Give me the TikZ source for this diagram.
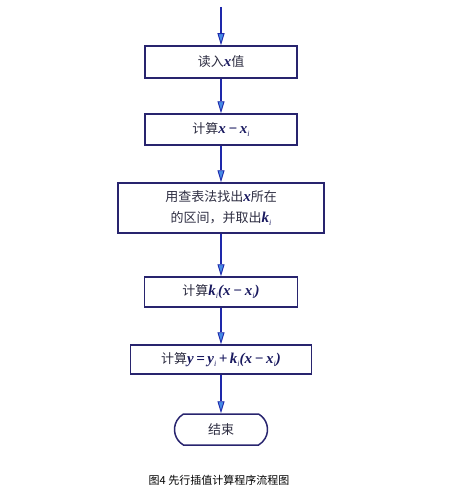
\documentclass[tikz,border=0pt]{standalone}
\usepackage{fontspec}
\newfontfamily\cjk{Noto Sans CJK SC}
\newfontfamily\mathfont{Liberation Serif}
\usetikzlibrary{arrows.meta, shapes.misc}
\definecolor{boxline}{RGB}{40,36,110}
\definecolor{flowline}{RGB}{30,40,170}
\definecolor{tipfill}{RGB}{70,140,230}
\definecolor{txtcol}{RGB}{45,45,65}
\definecolor{mathcol}{RGB}{25,25,95}
% bold italic formula text, and its subscript
\newcommand{\mth}[1]{{\mathfont\bfseries\itshape\fontsize{15}{15}\selectfont\color{mathcol}#1}}
\newcommand{\sub}[1]{\raisebox{-3pt}{\fontsize{8}{8}\selectfont\mdseries #1}}

\begin{document}
\begin{tikzpicture}[x=1pt,y=1pt,yscale=-1,
    box/.style={draw=boxline, line width=1.5pt, inner sep=0pt, align=center, text=txtcol,
        font=\cjk\fontsize{13}{21}\selectfont},
    term/.style={box, rounded rectangle, rounded rectangle arc length=120},
    flow/.style={draw=flowline, line width=1.8pt,
        -{Triangle[length=12pt, width=7pt, fill=tipfill, line width=0.9pt]}}]
    \useasboundingbox (0,0) rectangle (450,495);

    % boxes
    \coordinate (start) at (221,7);
    \node [box, minimum width=152pt, minimum height=32pt] (read) at (221,62) {读入\mth{x}值};
    \node [box, minimum width=152pt, minimum height=31pt] (diff) at (221,129.5) {计算\mth{x\,−\,x\sub{i}}};
    \node [box, minimum width=206pt, minimum height=50pt] (lookup) at (221,208) {用查表法找出\mth{x}所在\\的区间，并取出\mth{k\sub{i}}};
    \node [box, minimum width=153pt, minimum height=30pt] (prod) at (221,292) {计算\mth{k\sub{i}(x\,−\,x\sub{i})}};
    \node [box, minimum width=181pt, minimum height=29pt] (result) at (221,359.5) {计算\mth{y\,=\,y\sub{i}\,+\,k\sub{i}(x\,−\,x\sub{i})}};
    \node [term, minimum width=93pt, minimum height=31pt] (stop) at (221,429.5) {结束};

    % arrows
    \draw [flow] (start) -- (read.north);
    \draw [flow] (read.south) -- (diff.north);
    \draw [flow] (diff.south) -- (lookup.north);
    \draw [flow] (lookup.south) -- (prod.north);
    \draw [flow] (prod.south) -- (result.north);
    \draw [flow] (result.south) -- (stop.north);

    % caption
    \node [font=\cjk\fontsize{11}{13}\selectfont] (caption) at (219,480) {图4 先行插值计算程序流程图};
\end{tikzpicture}
\end{document}
